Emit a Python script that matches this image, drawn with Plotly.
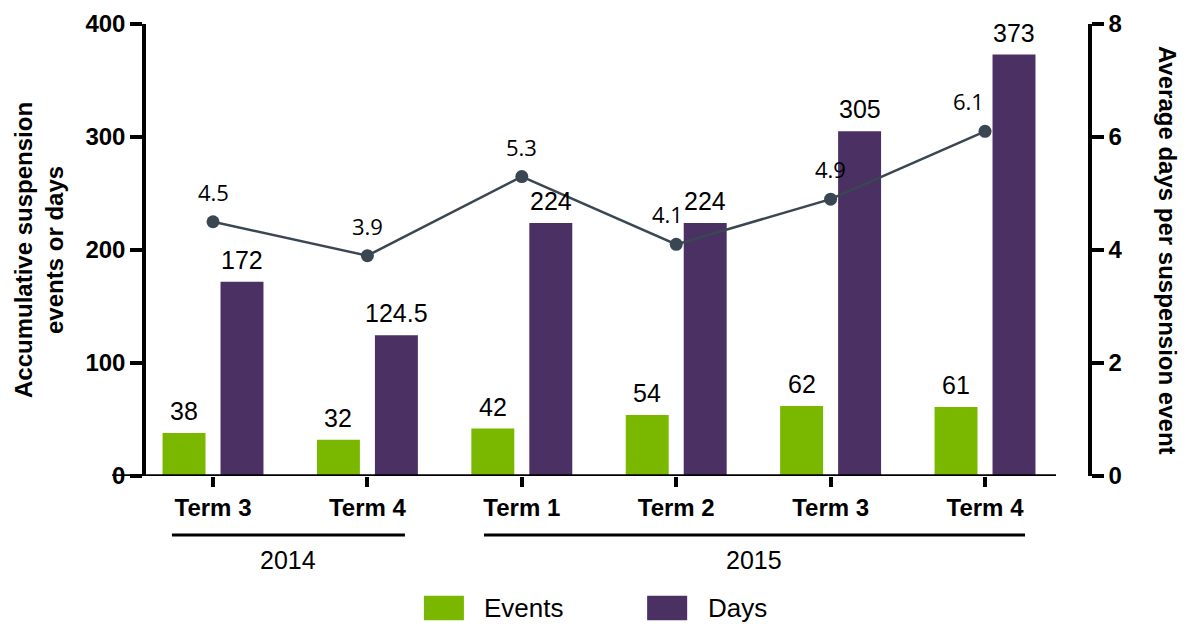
import plotly.graph_objects as go

terms = ['Term 3', 'Term 4', 'Term 1', 'Term 2', 'Term 3 ', 'Term 4 ']
tick_text = ['Term 3', 'Term 4', 'Term 1', 'Term 2', 'Term 3', 'Term 4']
events = [38, 32, 42, 54, 62, 61]
days = [172, 124.5, 224, 224, 305, 373]
avg_days = [4.5, 3.9, 5.3, 4.1, 4.9, 6.1]
day_labels = ['172', '124.5', '224', '224', '305', '373']
years = ['2014', '2015']
year_spans = [(-0.266, 1.243), (1.755, 5.259)]
left_ticks = [0, 100, 200, 300, 400]
right_ticks = [0, 2, 4, 6, 8]

GREEN = '#7ab800'
PURPLE = '#4b3064'
LINE = '#3a4753'
FONT = 'Liberation Sans, Arial, sans-serif'

# small nudges so line labels sit where the original put them
line_label_nudge = {3: -9, 5: -17}

fig = go.Figure()

fig.add_trace(go.Bar(x=terms, y=events, name='Events', marker=dict(color=GREEN, line=dict(width=0))))
fig.add_trace(go.Bar(x=terms, y=days, name='Days', marker=dict(color=PURPLE, line=dict(width=0))))
fig.add_trace(go.Scatter(
    x=terms, y=avg_days, yaxis='y2', mode='lines+markers',
    line=dict(color=LINE, width=2.5), marker=dict(color=LINE, size=13),
    showlegend=False, cliponaxis=False
))

# value labels above bars and line points
for i, v in enumerate(events):
    fig.add_annotation(x=i, y=v, xref='x', yref='y', text=str(v), showarrow=False,
                       xshift=-29, yshift=22, font=dict(size=25, color='black'))
for i, v in enumerate(days):
    fig.add_annotation(x=i, y=v, xref='x', yref='y', text=day_labels[i], showarrow=False,
                       xshift=29, yshift=22, font=dict(size=25, color='black'))
for i, v in enumerate(avg_days):
    fig.add_annotation(x=i, y=v, xref='x', yref='y2', text=str(v), showarrow=False,
                       xshift=line_label_nudge.get(i, 0), yshift=30,
                       font=dict(family='Open Sans, sans-serif', size=22, color='black'))

# baseline: thick through the 0 label, thin near the right axis
fig.add_shape(type='line', xref='paper', yref='y', x0=-0.036, x1=0.966, y0=0, y1=0,
              line=dict(color='black', width=3.5))
fig.add_shape(type='line', xref='paper', yref='y', x0=0.966, x1=1.0, y0=-1.5, y1=-1.5,
              line=dict(color='black', width=2))

# year brackets under the term labels
for name, (a, b) in zip(years, year_spans):
    fig.add_shape(type='line', xref='x', yref='paper', x0=a, x1=b, y0=-0.1305, y1=-0.1305,
                  line=dict(color='black', width=3))
    fig.add_annotation(x=(a + b) / 2, y=-0.186, xref='x', yref='paper', text=name,
                       xanchor='center', yanchor='middle',
                       showarrow=False, font=dict(size=25, color='black'))

# legend drawn by hand for the large swatches
legend_items = [('Events', GREEN, 0.295, 0.357), ('Days', PURPLE, 0.532, 0.594)]
for label, color, sx, tx in legend_items:
    fig.add_shape(type='rect', xref='paper', yref='paper', x0=sx, x1=sx + 0.0425,
                  y0=-0.319, y1=-0.265, fillcolor=color, line=dict(width=0))
    fig.add_annotation(x=tx, y=-0.292, xref='paper', yref='paper', text=label,
                       xanchor='left', yanchor='middle',
                       showarrow=False, font=dict(size=26, color='black'))

# axis titles
fig.add_annotation(x=-0.1136, y=0.5, xref='paper', yref='paper', textangle=-90, showarrow=False,
                   xanchor='center', yanchor='middle',
                   text='<b>Accumulative suspension<br>events or days</b>',
                   font=dict(size=24, color='black'))
fig.add_annotation(x=1.085, y=0.5, xref='paper', yref='paper', textangle=90, showarrow=False,
                   xanchor='center', yanchor='middle',
                   text='<b>Average days per suspension event</b>',
                   font=dict(size=24, color='black'))

fig.update_layout(
    width=1183, height=616,
    margin=dict(l=138, r=103, t=16, b=148),
    paper_bgcolor='white', plot_bgcolor='white',
    font=dict(family=FONT, color='black'),
    barmode='group', bargap=0.249, bargroupgap=0.259,
    showlegend=False,
    xaxis=dict(
        range=[-0.434, 5.667], tickmode='array', tickvals=terms,
        ticktext=['<b>%s</b>' % t for t in tick_text],
        tickfont=dict(size=24, color='black'), automargin=False,
        showline=False, ticks='outside', ticklen=10, tickwidth=3.5, tickcolor='black',
        showgrid=False, zeroline=False
    ),
    yaxis=dict(
        range=[0, 400], tickvals=left_ticks,
        ticktext=['<b>%d</b>' % v for v in left_ticks],
        tickfont=dict(size=24, color='black'), automargin=False,
        showline=True, linecolor='black', linewidth=3.5,
        ticks='outside', ticklen=12, tickwidth=3.5, tickcolor='black',
        showgrid=False, zeroline=False
    ),
    yaxis2=dict(
        range=[0, 8], overlaying='y', side='right', tickvals=right_ticks,
        ticktext=['<b>%d</b>' % v for v in right_ticks],
        tickfont=dict(size=24, color='black'), automargin=False,
        showline=True, linecolor='black', linewidth=3.5,
        ticks='outside', ticklen=12, tickwidth=3.5, tickcolor='black',
        showgrid=False, zeroline=False
    ),
)

fig.write_html('out.html')
